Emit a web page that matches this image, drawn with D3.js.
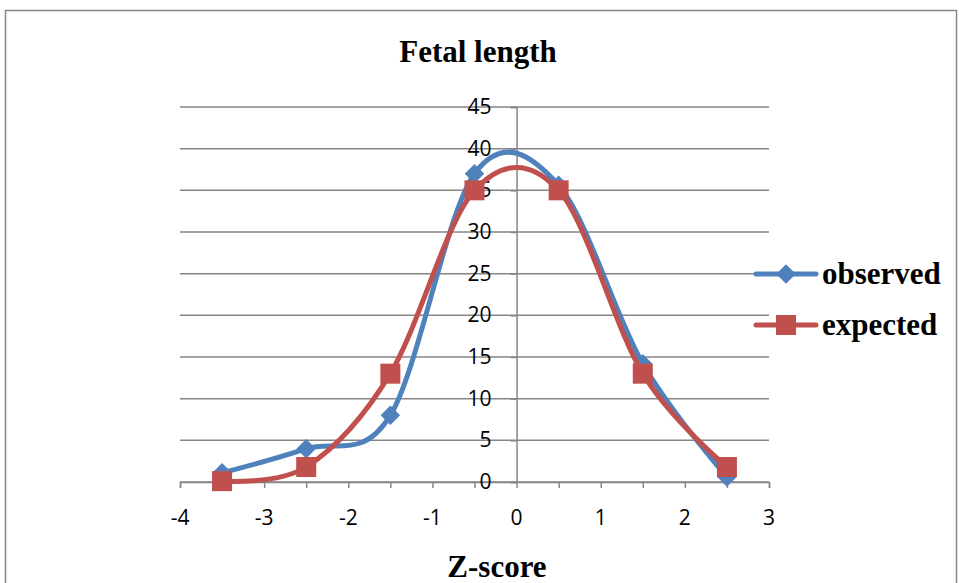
<!DOCTYPE html>
<html>
<head>
<meta charset="utf-8">
<script src="https://d3js.org/d3.v7.min.js"></script>
<style>
  body { margin: 0; background: #fff; }
  .tickText { font-family: "Open Sans", sans-serif; font-size: 21px; fill: #000; }
  .titleText { font-family: "Liberation Serif", serif; font-weight: bold; font-size: 31px; fill: #000; }
</style>
</head>
<body>
<script>
// Fetal length: observed vs expected counts by Z-score

// Data
let zScores = [-3.5, -2.5, -1.5, -0.5, 0.5, 1.5, 2.5];
let observed = [1.1, 4.0, 8.0, 37.0, 35.6, 14.2, 0.6];
let expected = [0.1, 1.8, 13.0, 35.0, 35.0, 13.0, 1.8];
let xTicks = [-4, -3, -2, -1, 0, 1, 2, 3];
let xMinorTicks = [-4, -3.5, -3, -2.5, -2, -1.5, -1, -0.5, 0, 0.5, 1, 1.5, 2, 2.5, 3];
let yTicks = [0, 5, 10, 15, 20, 25, 30, 35, 40, 45];

// SVG params
let svgWidth = 959;
let svgHeight = 583;

let margin = { top: 107, right: 190, bottom: 101, left: 180 };
let width = svgWidth - margin.left - margin.right;
let height = svgHeight - margin.top - margin.bottom;

let blue = "#4F81BD";
let red = "#C0504D";
let gridColor = "#868686";

let svg = d3.select("body")
    .append("svg")
    .attr("width", svgWidth)
    .attr("height", svgHeight);

// Outer chart border
svg.append("rect")
    .attr("x", 5.5)
    .attr("y", 10.5)
    .attr("width", 951)
    .attr("height", 600)
    .attr("fill", "none")
    .attr("stroke", gridColor)
    .attr("stroke-width", 1.5);

let chartGroup = svg.append("g")
    .attr("transform", `translate(${margin.left}, ${margin.top})`);

// Scales
let xScale = d3.scaleLinear().domain([-4, 3]).range([0, width]);
let yScale = d3.scaleLinear().domain([0, 45]).range([height, 0]);

// Horizontal gridlines
chartGroup.selectAll(".grid")
    .data(yTicks)
    .enter()
    .append("line")
    .attr("x1", 0)
    .attr("x2", width)
    .attr("y1", d => yScale(d))
    .attr("y2", d => yScale(d))
    .attr("stroke", gridColor)
    .attr("stroke-width", 1.5);

// X axis (at y = 0) with ticks every 0.5
let xAxis = d3.axisBottom(xScale)
    .tickValues(xMinorTicks)
    .tickSize(6)
    .tickFormat("");
let xAxisG = chartGroup.append("g")
    .attr("transform", `translate(0, ${yScale(0)})`)
    .call(xAxis);
xAxisG.selectAll("line, path").attr("stroke", gridColor).attr("stroke-width", 1.5);

// X tick labels
chartGroup.selectAll(".xLabel")
    .data(xTicks)
    .enter()
    .append("text")
    .attr("class", "tickText")
    .attr("x", d => xScale(d))
    .attr("y", yScale(0) + 43)
    .attr("text-anchor", "middle")
    .text(d => d);

// Y axis (at x = 0)
let yAxis = d3.axisLeft(yScale)
    .tickValues(yTicks)
    .tickSize(6)
    .tickFormat("");
let yAxisG = chartGroup.append("g")
    .attr("transform", `translate(${xScale(0)}, 0)`)
    .call(yAxis);
yAxisG.selectAll("line, path").attr("stroke", gridColor).attr("stroke-width", 1.5);

// Y tick labels
chartGroup.selectAll(".yLabel")
    .data(yTicks)
    .enter()
    .append("text")
    .attr("class", "tickText")
    .attr("x", xScale(0) - 25)
    .attr("y", d => yScale(d) + 7)
    .attr("text-anchor", "end")
    .text(d => d);

// Smoothed lines
let series = [
    { name: "observed", values: observed, color: blue, marker: "diamond" },
    { name: "expected", values: expected, color: red, marker: "square" }
];

let line = d3.line()
    .x(d => xScale(d[0]))
    .y(d => yScale(d[1]))
    .curve(d3.curveCardinal.tension(0));

function drawMarker(g, kind, color) {
    if (kind === "diamond") {
        g.append("path")
            .attr("d", d3.symbol().type(d3.symbolSquare).size(190))
            .attr("transform", "rotate(45)")
            .attr("fill", color);
    } else {
        g.append("rect")
            .attr("x", -10)
            .attr("y", -10)
            .attr("width", 20)
            .attr("height", 20)
            .attr("fill", color);
    }
}

series.forEach(function(s) {
    let pts = zScores.map((z, i) => [z, s.values[i]]);
    chartGroup.append("path")
        .datum(pts)
        .attr("d", line)
        .attr("fill", "none")
        .attr("stroke", s.color)
        .attr("stroke-width", 5);
    pts.forEach(function(p) {
        let g = chartGroup.append("g")
            .attr("transform", `translate(${xScale(p[0])}, ${yScale(p[1])})`);
        drawMarker(g, s.marker, s.color);
    });
});

// Legend
series.forEach(function(s, i) {
    let ly = 274 + i * 51;
    let lg = svg.append("g").attr("transform", `translate(0, ${ly})`);
    lg.append("line")
        .attr("x1", 756)
        .attr("x2", 816)
        .attr("stroke", s.color)
        .attr("stroke-width", 5)
        .attr("stroke-linecap", "round");
    let m = lg.append("g").attr("transform", "translate(786, 0)");
    drawMarker(m, s.marker, s.color);
    lg.append("text")
        .attr("class", "titleText")
        .attr("x", 822)
        .attr("y", 10)
        .text(s.name);
});

// Title and axis label
svg.append("text")
    .attr("class", "titleText")
    .attr("x", 478)
    .attr("y", 62)
    .attr("text-anchor", "middle")
    .text("Fetal length");

svg.append("text")
    .attr("class", "titleText")
    .attr("x", 497)
    .attr("y", 577)
    .attr("text-anchor", "middle")
    .text("Z-score");
</script>
</body>
</html>
